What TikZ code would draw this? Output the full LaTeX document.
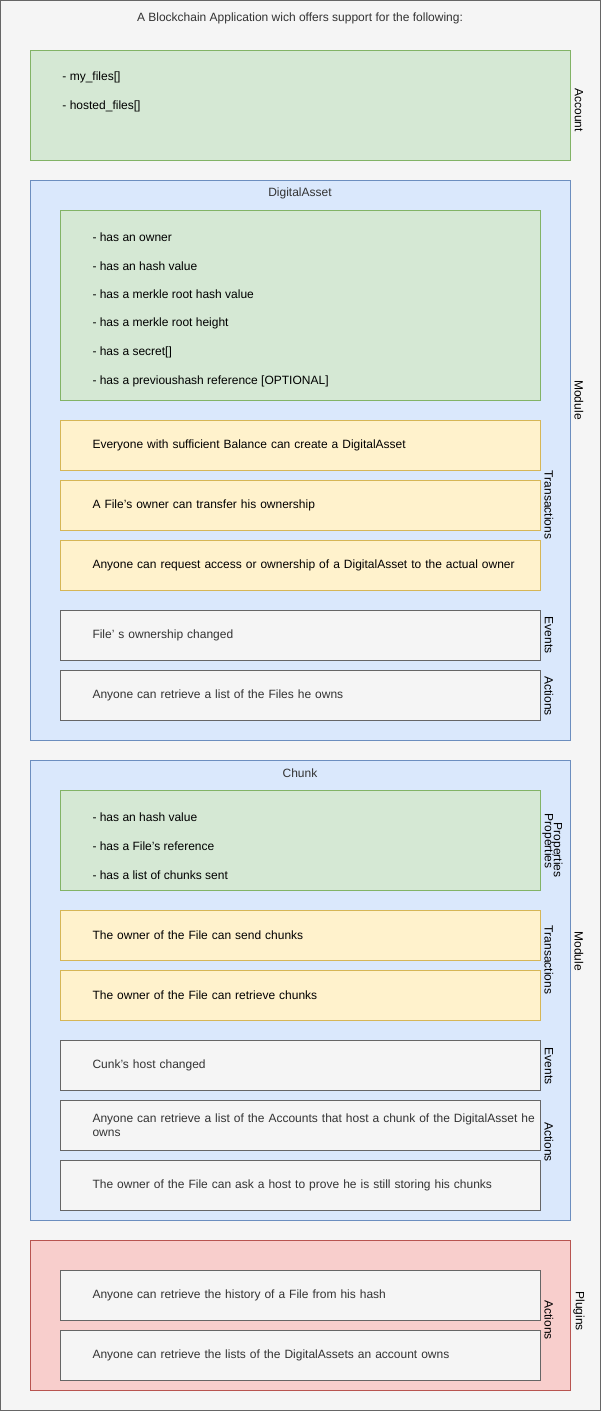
\documentclass[tikz,border=0pt]{standalone}
\usepackage{fontspec}
\setmainfont{Liberation Sans}
\usetikzlibrary{positioning}

\definecolor{framefill}{HTML}{F5F5F5}
\definecolor{framedraw}{HTML}{666666}
\definecolor{greyfont}{HTML}{333333}
\definecolor{greenfill}{HTML}{D5E8D4}
\definecolor{greendraw}{HTML}{82B366}
\definecolor{bluefill}{HTML}{DAE8FC}
\definecolor{bluedraw}{HTML}{6C8EBF}
\definecolor{yellowfill}{HTML}{FFF2CC}
\definecolor{yellowdraw}{HTML}{D6B656}
\definecolor{redfill}{HTML}{F8CECC}
\definecolor{reddraw}{HTML}{B85450}

\begin{document}
\begin{tikzpicture}[x=0.75pt, y=-0.75pt, line width=0.75pt,
	font=\fontsize{9}{10.5}\selectfont,
	area/.style={draw, anchor=north west, inner sep=0pt, minimum width=405pt},
	props/.style={draw=greendraw, fill=greenfill, anchor=north west, inner sep=0pt, minimum width=360pt},
	entry/.style={draw, anchor=north west, minimum width=360pt, minimum height=37.5pt,
		text width=356pt, inner xsep=2pt, inner ysep=0pt, align=left,
		execute at begin node={\leftskip=22pt\hyphenpenalty=10000\relax}},
	tx/.style={entry, draw=yellowdraw, fill=yellowfill},
	ev/.style={entry, draw=framedraw, fill=framefill, text=greyfont},
	item/.style={anchor=west, inner sep=0pt},
	side/.style={rotate=-90, inner sep=0pt}]
	\def \gap {28.8} % spacing of the property lines
	
	\useasboundingbox (0,0) rectangle (601,1411);
	\draw[draw=framedraw, fill=framefill] (0.5,0.5) rectangle (600.5,1410.5);
	\node(title)[text=greyfont] at (300,18) {A Blockchain Application wich offers support for the following:};
	
	% Account
	\node(account)[area, draw=greendraw, fill=greenfill, minimum height=82.5pt] at (30,50) {};
	\node(accA)[item] at (62,77) {- my\_files[]};
	\node(accB)[item] at (62,106) {- hosted\_files[]};
	\node(accLabel)[side] at (579,110) {Account};
	
	% DigitalAsset module
	\node(asset)[area, draw=bluedraw, fill=bluefill, minimum height=420pt] at (30,180) {};
	\node(assetTitle)[text=greyfont] at (300,193) {DigitalAsset};
	\node(assetProps)[props, minimum height=142.5pt] at (60,210) {};
	\foreach \t [count=\s from 0] in {has an owner, has an hash value, has a merkle root hash value,
		has a merkle root height, has a secret[], has a previoushash reference [OPTIONAL]}
	{
		\node(assetP\s)[item] at (92,{237+\gap*\s}) {- \t};
	}
	\node(assetTxA)[tx] at (60,420) {Everyone with sufficient Balance can create a DigitalAsset};
	\node(assetTxB)[tx] at (60,480) {A File's owner can transfer his ownership};
	\node(assetTxC)[tx] at (60,540) {Anyone can request access or ownership of a DigitalAsset to the actual owner};
	\node(assetEv)[ev] at (60,610) {File' s ownership changed};
	\node(assetAc)[ev] at (60,670) {Anyone can retrieve a list of the Files he owns};
	\node(assetTxLabel)[side] at (549,505) {Transactions};
	\node(assetEvLabel)[side] at (549,635) {Events};
	\node(assetAcLabel)[side] at (549,696) {Actions};
	\node(assetLabel)[side] at (579,400) {Module};
	
	% Chunk module
	\node(chunk)[area, draw=bluedraw, fill=bluefill, minimum height=345pt] at (30,760) {};
	\node(chunkTitle)[text=greyfont] at (300,773) {Chunk};
	\node(chunkProps)[props, minimum height=75pt] at (60,790) {};
	\node(chunkP0)[item] at (92,817) {- has an hash value};
	\node(chunkP1)[item] at (92,846) {- has a File's reference};
	\node(chunkP2)[item] at (92,875) {- has a list of chunks sent};
	\node(chunkTxA)[tx] at (60,910) {The owner of the File can send chunks};
	\node(chunkTxB)[tx] at (60,970) {The owner of the File can retrieve chunks};
	\node(chunkEv)[ev] at (60,1040) {Cunk's host changed};
	\node(chunkAcA)[ev] at (60,1100) {Anyone can retrieve a list of the Accounts that host a chunk of the DigitalAsset he\\owns};
	\node(chunkAcB)[ev] at (60,1160) {The owner of the File can ask a host to prove he is still storing his chunks};
	\node(chunkPrLabelA)[side] at (557,850) {Properties};
	\node(chunkPrLabelB)[side] at (548,841) {Properties};
	\node(chunkTxLabel)[side] at (549,960) {Transactions};
	\node(chunkEvLabel)[side] at (549,1066) {Events};
	\node(chunkAcLabel)[side] at (549,1142) {Actions};
	\node(chunkLabel)[side] at (579,951) {Module};
	
	% Plugins
	\node(plugins)[area, draw=reddraw, fill=redfill, minimum height=112.5pt] at (30,1240) {};
	\node(plugAcA)[ev] at (60,1270) {Anyone can retrieve the history of a File from his hash};
	\node(plugAcB)[ev] at (60,1330) {Anyone can retrieve the lists of the DigitalAssets an account owns};
	\node(plugAcLabel)[side] at (549,1320) {Actions};
	\node(plugLabel)[side] at (579,1311) {Plugins};
\end{tikzpicture}
\end{document}
